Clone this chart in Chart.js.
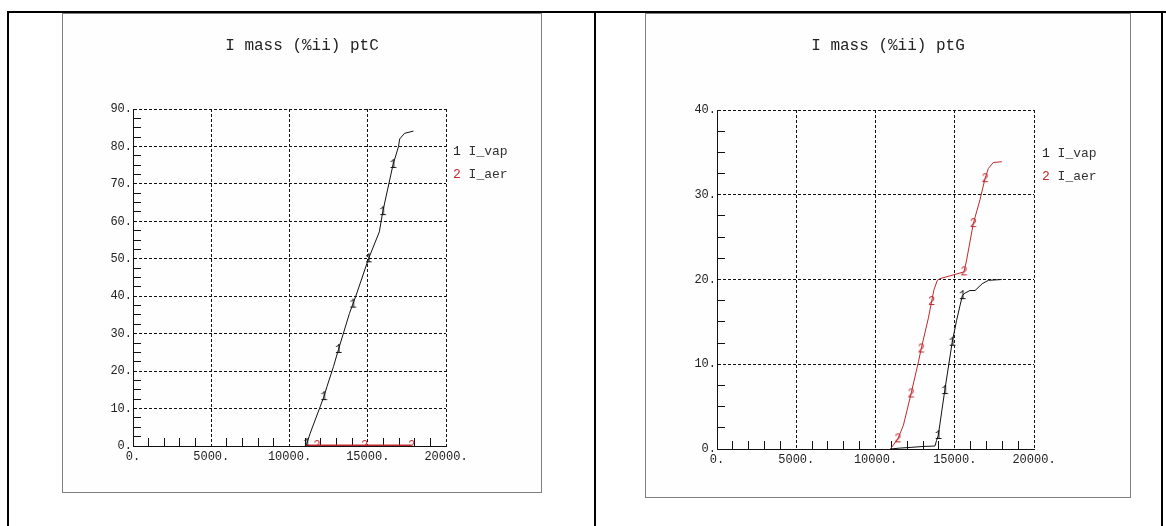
<!DOCTYPE html>
<html lang="en">
<head>
<meta charset="UTF-8">
<title>I mass (%ii)</title>
<script src="https://cdn.jsdelivr.net/npm/chart.js"></script>
<style>
  body { margin:0; background:#fff; width:1166px; height:526px; position:relative; overflow:hidden; font-family:"Liberation Mono", monospace; }
  .rule { position:absolute; background:#000; }
  .frame { position:absolute; border:1px solid #808080; background:#fefefe; }
  .frame canvas { position:absolute; left:-1px; top:-1px; }
  .title { position:absolute; left:0; width:100%; text-align:center; font-size:16px; line-height:20px; color:#222; top:22px; }
  .leg { position:absolute; font-size:13px; color:#333; white-space:pre; line-height:23px; }
  .leg .n1 { color:#222; }
  .leg .n2 { color:#c0282d; }
</style>
</head>
<body>
  <div class="rule" style="left:7px; top:11px; width:1159px; height:2px;"></div>
  <div class="rule" style="left:7px; top:11px; width:2px; height:515px;"></div>
  <div class="rule" style="left:594px; top:11px; width:2px; height:515px;"></div>
  <div class="rule" style="left:1161px; top:11px; width:2px; height:515px;"></div>

  <div class="frame" id="frameC" style="left:62px; top:13px; width:478px; height:478px;">
    <canvas id="chartC" width="480" height="480"></canvas>
    <div class="title" id="titleC"></div>
    <div class="leg" id="legC" style="left:390px; top:126px;"></div>
  </div>

  <div class="frame" id="frameG" style="left:645px; top:13px; width:484px; height:483px;">
    <canvas id="chartG" width="486" height="485"></canvas>
    <div class="title" id="titleG"></div>
    <div class="leg" id="legG" style="left:396px; top:128px;"></div>
  </div>

<script>
// chart texts
const titles = ['I mass (%ii) ptC', 'I mass (%ii) ptG'];
const seriesNames = ['I_vap', 'I_aer'];

// labelled ticks
const xLabelled = [0, 5000, 10000, 15000, 20000];
const cYLabelled = [0, 10, 20, 30, 40, 50, 60, 70, 80, 90];
const gYLabelled = [0, 10, 20, 30, 40];

// ptC, series 1 (I_vap)
const cVapX = [11000, 11110, 11320, 11960, 12200, 12390, 12810, 13130, 13830, 14050, 14260, 15050, 15740, 15960, 16620, 16960, 17040, 17350, 17920];
const cVapY = [0, 0.7, 3.4, 10.5, 13.2, 15.8, 21.2, 25.8, 35.4, 37.9, 40.3, 50.0, 57.2, 62.6, 75.2, 79.9, 82.0, 83.5, 84.1];
const cVapMarks = [1, 4, 7, 9, 11, 13, 14];
// ptC, series 2 (I_aer)
const cAerX = [11000, 11750, 14800, 17800];
const cAerY = [0.15, 0.15, 0.15, 0.15];
const cAerMarks = [1, 2, 3];

// ptG, series 1 (I_vap)
const gVapX = [10950, 11500, 12300, 13000, 13750, 13850, 13960, 14370, 14840, 15120, 15330, 15480, 15650, 15960, 16280, 16730, 17120, 17960];
const gVapY = [0, 0.1, 0.2, 0.3, 0.35, 1.0, 1.6, 6.9, 12.6, 15.2, 16.9, 18.1, 18.4, 18.7, 18.7, 19.5, 19.9, 20.0];
const gVapMarks = [6, 7, 8, 11];
// ptG, series 2 (I_aer)
const gAerX = [10940, 11410, 11760, 12240, 12710, 12880, 13330, 13540, 13690, 13900, 14070, 15020, 15580, 15750, 16170, 16590, 16910, 17120, 17430, 17970];
const gAerY = [0, 1.2, 2.8, 6.5, 10.3, 11.8, 15.4, 17.4, 18.8, 19.9, 20.1, 20.6, 20.9, 22.3, 26.6, 29.4, 31.9, 33.1, 33.8, 33.9];
const gAerMarks = [1, 3, 5, 7, 12, 14, 16];

const BLACK = '#111';
const RED = '#c0282d';
const FONT = '"Liberation Mono", monospace';

// little digit used as point marker
function digit(ch, color) {
  const c = document.createElement('canvas');
  c.width = 9; c.height = 13;
  const g = c.getContext('2d');
  g.font = '12px ' + FONT;
  g.fillStyle = color;
  g.textAlign = 'center';
  g.textBaseline = 'middle';
  g.fillText(ch, 4.5, 7);
  return c;
}

function serie(xs, ys, marks, label, color, width) {
  const mark = digit(label === seriesNames[0] ? '1' : '2', color);
  return {
    label: label,
    data: xs.map((x, i) => ({x: x, y: ys[i]})),
    borderColor: color,
    borderWidth: width,
    tension: 0,
    pointStyle: mark,
    pointRadius: c => marks.includes(c.dataIndex) ? 3 : 0,
    pointHoverRadius: 0
  };
}

function makeChart(id, datasets, yMax, yLabelled, box) {
  const tickCol = (labelled) => c => (c.tick && labelled.includes(c.tick.value)) ? 'transparent' : BLACK;
  const gridCol = (labelled) => c => (c.tick && labelled.includes(c.tick.value)) ? BLACK : 'transparent';
  return new Chart(document.getElementById(id), {
    type: 'line',
    data: { datasets: datasets },
    options: {
      responsive: false,
      devicePixelRatio: 1,
      animation: false,
      events: [],
      layout: { padding: { left: 0, top: box.top, right: box.right, bottom: 0 } },
      plugins: { legend: { display: false }, title: { display: false }, tooltip: { enabled: false } },
      scales: {
        x: {
          type: 'linear', min: 0, max: 20000,
          afterFit: s => { s.height = box.xh; },
          ticks: {
            stepSize: 1000, autoSkip: false, maxRotation: 0, maxTicksLimit: 100,
            padding: 12, color: '#222', font: { family: FONT, size: 12 },
            callback: v => xLabelled.includes(v) ? v + '.' : ''
          },
          grid: { color: gridCol(xLabelled), tickColor: tickCol(xLabelled), tickLength: -8, tickWidth: 1, lineWidth: 1 },
          border: { display: true, color: BLACK, width: 1, dash: [3, 2] }
        },
        y: {
          type: 'linear', min: 0, max: yMax,
          afterFit: s => { s.width = box.yw; },
          ticks: {
            stepSize: 2.5, autoSkip: false, maxTicksLimit: 100,
            padding: 9, color: '#222', font: { family: FONT, size: 12 },
            callback: v => yLabelled.includes(v) ? v + '.' : ''
          },
          grid: { color: gridCol(yLabelled), tickColor: tickCol(yLabelled), tickLength: -8, tickWidth: 1, lineWidth: 1 },
          border: { display: true, color: BLACK, width: 1, dash: [3, 2] }
        }
      }
    }
  });
}

function legend(id) {
  const el = document.getElementById(id);
  el.innerHTML = '<span class="n1">1</span> ' + seriesNames[0] + '\n<span class="n2">2</span> ' + seriesNames[1];
}

document.getElementById('titleC').textContent = titles[0];
document.getElementById('titleG').textContent = titles[1];
legend('legC');
legend('legG');

makeChart('chartC', [
  serie(cVapX, cVapY, cVapMarks, seriesNames[0], BLACK, 1),
  serie(cAerX, cAerY, cAerMarks, seriesNames[1], RED, 2)
], 90, cYLabelled, { top: 96, right: 96, yw: 71, xh: 47 });

makeChart('chartG', [
  serie(gVapX, gVapY, gVapMarks, seriesNames[0], BLACK, 1),
  serie(gAerX, gAerY, gAerMarks, seriesNames[1], RED, 1)
], 40, gYLabelled, { top: 97, right: 97, yw: 72, xh: 49 });
</script>
</body>
</html>
